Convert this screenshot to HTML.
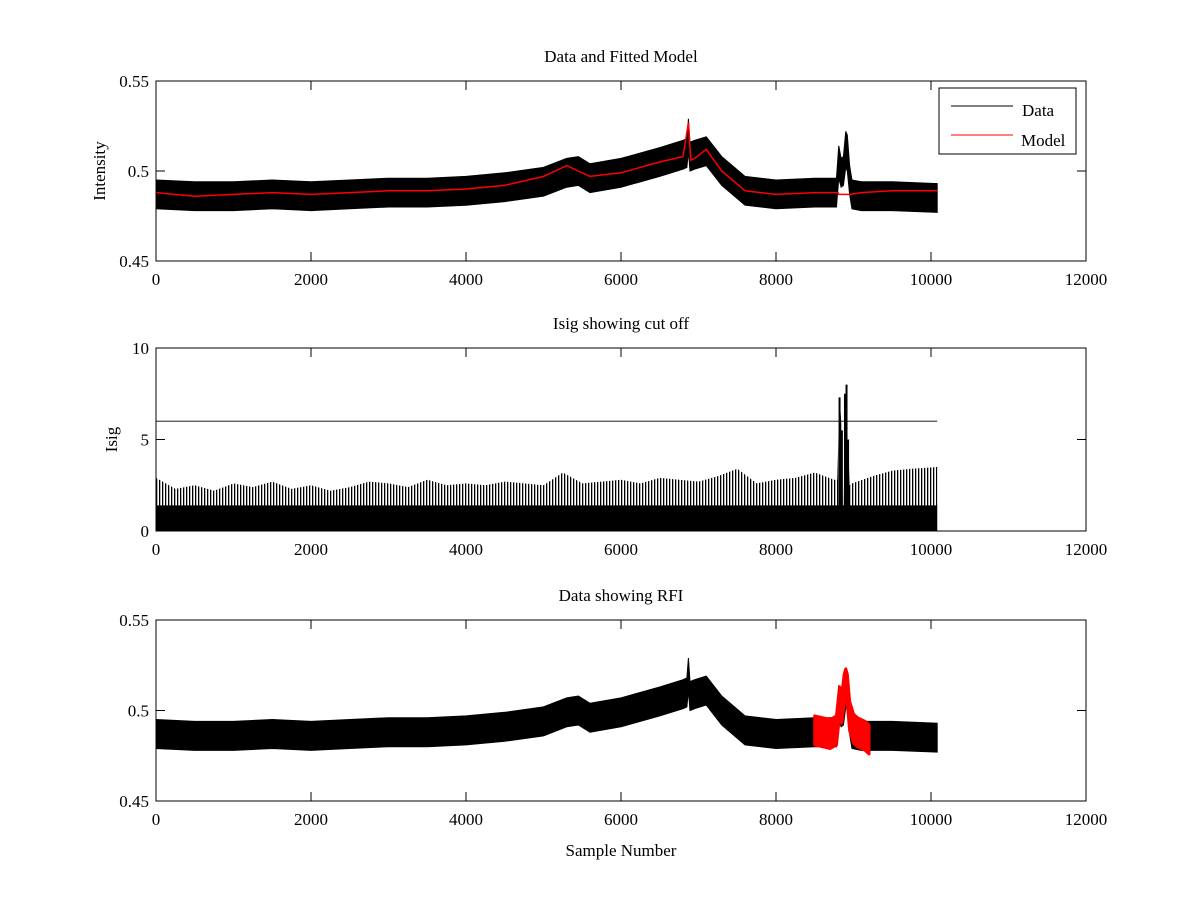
<!DOCTYPE html>
<html><head><meta charset="utf-8"><style>
body{margin:0;background:#fff}
svg text{font-family:"Liberation Serif",serif;font-size:17px;fill:#000}
</style></head><body>
<svg id="chart" width="1200" height="900" xmlns="http://www.w3.org/2000/svg">
<defs><pattern id="stripes" width="3" height="10" patternUnits="userSpaceOnUse"><rect x="0" y="0" width="1.3" height="10" fill="#000"/></pattern></defs>
</svg>
<script>
// ---- data ----
const xSamples = [0,500,1000,1500,2000,2500,3000,3500,4000,4500,5000,5300,5450,5600,6000,6500,6800,6850,6870,6890,6950,7100,7300,7600,8000,8500,8780,8810,8840,8870,8900,8920,8950,8980,9100,9500,10080];
const dataCenter = [0.487,0.486,0.486,0.487,0.486,0.487,0.488,0.488,0.489,0.491,0.494,0.499,0.500,0.496,0.499,0.505,0.509,0.510,0.520,0.508,0.509,0.511,0.500,0.489,0.487,0.488,0.488,0.505,0.499,0.500,0.512,0.510,0.495,0.487,0.486,0.486,0.485];
const dataHalf = [0.008,0.008,0.008,0.008,0.008,0.008,0.008,0.008,0.008,0.008,0.008,0.008,0.008,0.008,0.008,0.008,0.008,0.008,0.009,0.008,0.008,0.008,0.008,0.008,0.008,0.008,0.008,0.009,0.008,0.008,0.010,0.010,0.008,0.008,0.008,0.008,0.008];
const modelX = [0,500,1000,1500,2000,2500,3000,3500,4000,4500,5000,5300,5450,5600,6000,6500,6800,6870,6900,6950,7100,7300,7600,8000,8500,8800,8810,8950,9100,9500,10080];
const modelY = [0.488,0.486,0.487,0.488,0.487,0.488,0.489,0.489,0.490,0.492,0.497,0.503,0.500,0.497,0.499,0.505,0.508,0.527,0.506,0.507,0.512,0.500,0.489,0.487,0.488,0.488,0.487,0.487,0.488,0.489,0.489];
const isigX = [0,250,500,750,1000,1250,1500,1750,2000,2250,2500,2750,3000,3250,3500,3750,4000,4250,4500,4750,5000,5250,5500,5750,6000,6250,6500,6750,7000,7250,7500,7750,8000,8250,8500,8750,8790,8820,8850,8870,8890,8910,8930,8950,8980,9250,9500,9750,10080];
const isigTop = [2.9,2.3,2.5,2.2,2.6,2.4,2.7,2.3,2.5,2.2,2.4,2.7,2.6,2.4,2.8,2.5,2.6,2.5,2.7,2.6,2.5,3.2,2.6,2.7,2.8,2.6,2.9,2.8,2.7,3.0,3.4,2.6,2.8,2.9,3.2,2.8,2.8,7.3,5.5,0,7.5,8.0,5.0,2.5,2.6,3.0,3.3,3.4,3.5];
const isigDense = 1.4;
const cutoff = 6;
const rfiX = [8500,8600,8700,8780,8820,8850,8880,8900,8920,8950,9000,9050,9100,9150,9200];
const rfiY = [0.489,0.488,0.487,0.489,0.505,0.501,0.512,0.515,0.512,0.497,0.490,0.488,0.487,0.486,0.484];
const xTicks = [0,2000,4000,6000,8000,10000,12000];
const yTicks1 = [0.45,0.5,0.55];
const yTicks2 = [0,5,10];

// ---- drawing ----
const NS="http://www.w3.org/2000/svg", svg=document.getElementById('chart');
function el(t,a,p){const e=document.createElementNS(NS,t);for(const k in a)e.setAttribute(k,a[k]);(p||svg).appendChild(e);return e;}
function txt(s,a,p){const e=el('text',a,p);e.textContent=s;return e;}
const L=156,R=1086;
const xs=v=>L+(v/12000)*(R-L);
function mkY(top,bot,lo,hi){return v=>bot-(v-lo)/(hi-lo)*(bot-top);}
const lab=v=>String(v);

function axes(top,bot,yt,ys,name,title,ylabel,ylx){
  const g=el('g',{});
  
  
  const t=txt(title,{x:(L+R)/2,y:top-19,'text-anchor':'middle'},g);
  
  xTicks.forEach(v=>{
    el('line',{x1:xs(v),x2:xs(v),y1:bot,y2:bot-9,stroke:'#000'},g);
    el('line',{x1:xs(v),x2:xs(v),y1:top,y2:top+9,stroke:'#000'},g);
    const l=txt(lab(v),{x:xs(v),y:bot+24,'text-anchor':'middle'},g);
    
  });
  yt.forEach(v=>{
    el('line',{x1:L,x2:L+9,y1:ys(v),y2:ys(v),stroke:'#000'},g);
    el('line',{x1:R,x2:R-9,y1:ys(v),y2:ys(v),stroke:'#000'},g);
    const l=txt(lab(v),{x:L-7,y:ys(v)+6,'text-anchor':'end'},g);
    
  });
  const yl=txt(ylabel,{x:ylx,y:(top+bot)/2,'text-anchor':'middle',transform:`rotate(-90 ${ylx} ${(top+bot)/2})`},g);
  
  return g;
}
function band(xa,c,h,ys){
  let up=xa.map((x,i)=>xs(x)+','+ys(c[i]+h[i]));
  let dn=xa.map((x,i)=>xs(x)+','+ys(c[i]-h[i])).reverse();
  return up.concat(dn).join(' ');
}
// panel 1
const y1=mkY(81,261,0.45,0.55);
const d1=el('polygon',{points:band(xSamples,dataCenter,dataHalf,y1),fill:'#000',stroke:'#000','stroke-width':1});

const m1=el('polyline',{points:modelX.map((x,i)=>xs(x)+','+y1(modelY[i])).join(' '),fill:'none',stroke:'#f00','stroke-width':1.5});

el('rect',{x:L,y:81,width:R-L,height:180,fill:'none',stroke:'#000'});
axes(81,261,yTicks1,y1,'panel-data-model','Data and Fitted Model','Intensity',105);
const lg=el('g',{});

el('rect',{x:939,y:88,width:137,height:66,fill:'#fff',stroke:'#000'},lg);
el('line',{x1:951,x2:1013,y1:106,y2:106,stroke:'#000'},lg);
txt('Data',{x:1022,y:116},lg);
el('line',{x1:951,x2:1013,y1:135,y2:135,stroke:'#f00'},lg);
txt('Model',{x:1021,y:146},lg);

// panel 2
const y2=mkY(348,531,0,10);
const ip=[xs(0)+','+y2(0)].concat(isigX.map((x,i)=>xs(x)+','+y2(isigTop[i]))).concat([xs(10080)+','+y2(0)]);
const i2=el('polygon',{points:ip.join(' '),fill:'url(#stripes)',stroke:'none'});

const dense=el('rect',{x:xs(0),y:y2(isigDense),width:xs(10080)-xs(0),height:y2(0)-y2(isigDense),fill:'#000'});

isigX.forEach((x,i)=>{
  if(isigTop[i]<5) return;
  const s=el('line',{x1:xs(x),x2:xs(x),y1:y2(0),y2:y2(isigTop[i]),stroke:'#000','stroke-width':2});
  
  
});
const c2=el('line',{x1:xs(0),x2:xs(10080),y1:y2(cutoff),y2:y2(cutoff),stroke:'#000','stroke-width':0.8});

el('rect',{x:L,y:348,width:R-L,height:183,fill:'none',stroke:'#000'});
axes(348,531,yTicks2,y2,'panel-isig','Isig showing cut off','Isig',117);

// panel 3
const y3=mkY(620,801,0.45,0.55);
const d3=el('polygon',{points:band(xSamples,dataCenter,dataHalf,y3),fill:'#000',stroke:'#000'});

const r3=el('polygon',{points:band(rfiX,rfiY,rfiX.map(()=>0.008),y3),fill:'#f00',stroke:'#f00','stroke-width':3,'stroke-linejoin':'round'});

el('rect',{x:L,y:620,width:R-L,height:181,fill:'none',stroke:'#000'});
axes(620,801,yTicks1,y3,'panel-rfi','Data showing RFI','',104);
const xt=txt('Sample Number',{x:(L+R)/2,y:856,'text-anchor':'middle'});

</script>
</body></html>
